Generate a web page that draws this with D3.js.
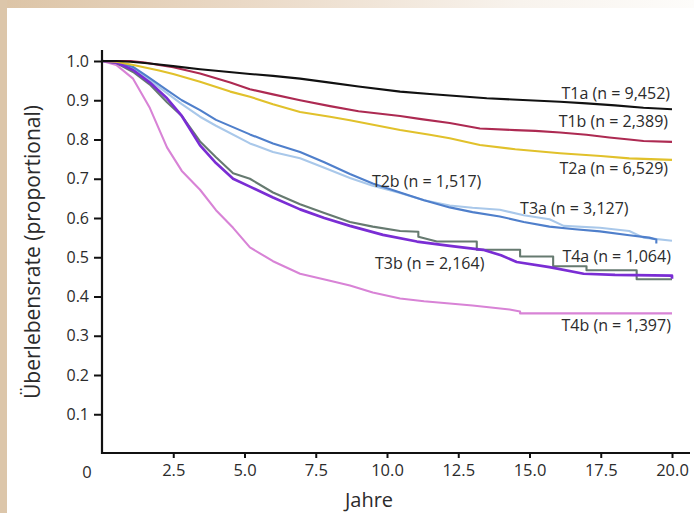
<!DOCTYPE html>
<html>
<head>
<meta charset="utf-8">
<script src="https://cdn.jsdelivr.net/npm/d3@7"></script>
<style>
  html, body { margin: 0; padding: 0; background: #fff; }
  svg { display: block; }
</style>
</head>
<body>
<svg id="chart" width="694" height="513"></svg>
<script>
// Kaplan-Meier survival by T category, values as [years, proportion surviving]
const xTicks = [2.5, 5.0, 7.5, 10.0, 12.5, 15.0, 17.5, 20.0];
const yTicks = [0.1, 0.2, 0.3, 0.4, 0.5, 0.6, 0.7, 0.8, 0.9, 1.0];

const seriesNames  = ["T1a", "T1b", "T2a", "T2b", "T3a", "T3b", "T4a", "T4b"];
const seriesCounts = ["9,452", "2,389", "6,529", "1,517", "3,127", "2,164", "1,064", "1,397"];

const t1a = [[0,1],[0.5,1],[1,0.998],[1.5,0.995],[2,0.991],[2.5,0.987],[3.44,0.979],[4,0.975],[5.19,0.967],[6,0.962],[6.95,0.955],[8,0.945],[9,0.935],[10.46,0.922],[11.5,0.916],[12.2,0.912],[13.5,0.905],[14.4,0.902],[16.07,0.896],[17,0.892],[18,0.887],[19,0.881],[20,0.877]];
const t1b = [[0,1],[1,1],[1.5,0.996],[2,0.99],[2.5,0.984],[3.44,0.968],[4.5,0.945],[5.19,0.928],[6,0.915],[6.95,0.9],[8,0.885],[9,0.872],[10.46,0.86],[11.2,0.852],[12.2,0.842],[13.26,0.828],[14.5,0.824],[15.2,0.822],[16.07,0.818],[17,0.812],[17.8,0.805],[18.5,0.8],[19,0.796],[20,0.794]];
const t2a = [[0,1],[0.5,0.998],[1.1,0.99],[2,0.976],[2.5,0.967],[3.44,0.947],[4.5,0.922],[5.19,0.909],[6,0.89],[6.95,0.87],[8,0.858],[8.7,0.849],[10.46,0.824],[11.5,0.812],[12.2,0.803],[13.26,0.786],[14.5,0.775],[16.07,0.765],[17.5,0.758],[18.5,0.752],[20,0.748]];
const t2b = [[0,1],[0.5,0.998],[1.09,0.985],[1.6,0.96],[2.28,0.926],[2.8,0.9],[3.44,0.875],[4,0.85],[5.19,0.813],[6,0.79],[6.95,0.768],[7.8,0.742],[8.7,0.712],[9.5,0.688],[10.46,0.665],[11.3,0.645],[12.2,0.627],[13,0.615],[13.96,0.604],[14.8,0.59],[15.7,0.578],[16.5,0.572],[17.47,0.566],[18.5,0.556],[19.2,0.55],[19.45,0.545],[19.45,0.535]];
const t3a = [[0,1],[0.5,0.997],[1.09,0.982],[1.6,0.955],[2.28,0.918],[2.8,0.89],[3.44,0.858],[4,0.835],[5.19,0.79],[6,0.768],[6.95,0.752],[7.8,0.728],[8.7,0.702],[9.5,0.682],[10.46,0.664],[11.3,0.645],[12.2,0.632],[13,0.626],[13.96,0.621],[14.8,0.607],[15.7,0.597],[16.2,0.58],[17.47,0.575],[18.5,0.567],[19,0.55],[20,0.542]];
const t3b = [[0,1],[0.5,0.996],[1.09,0.977],[1.68,0.945],[2.28,0.905],[2.8,0.86],[3.44,0.785],[4,0.74],[4.6,0.7],[5.19,0.68],[6,0.652],[6.95,0.622],[7.8,0.6],[8.7,0.58],[9.86,0.557],[11.05,0.54],[12.2,0.529],[13.37,0.519],[14,0.505],[14.55,0.488],[15.7,0.475],[16.9,0.458],[18,0.455],[20,0.453],[20,0.445]];
const t4a = [[0,1],[0.5,0.995],[1.09,0.972],[1.68,0.94],[2.28,0.895],[2.8,0.86],[3.44,0.795],[4,0.755],[4.6,0.714],[5.19,0.7],[6,0.665],[6.95,0.635],[7.8,0.613],[8.7,0.59],[9.5,0.578],[10.46,0.567],[11.1,0.565],[11.1,0.552],[11.75,0.54],[13.15,0.54],[13.15,0.519],[14.67,0.519],[14.67,0.502],[15.83,0.502],[15.83,0.477],[17,0.477],[17,0.467],[18.76,0.467],[18.76,0.444],[20,0.444]];
const t4b = [[0,1],[0.5,0.99],[1.09,0.955],[1.68,0.88],[2.28,0.78],[2.8,0.72],[3.44,0.672],[4,0.62],[4.6,0.575],[5.19,0.525],[5.54,0.51],[6,0.49],[6.95,0.458],[8,0.44],[8.7,0.428],[9.5,0.41],[10.46,0.395],[11.3,0.388],[12.2,0.382],[13,0.377],[14.3,0.367],[14.67,0.362],[14.67,0.357],[20,0.357]];

const seriesValues = [t1a, t1b, t2a, t2b, t3a, t3b, t4a, t4b];

// styling and label placement
const colors = ["#111111", "#ad2a52", "#e1c12b", "#4f7fcb", "#a9c8ea", "#7a2dd4", "#667a70", "#d883d6"];
const widths = [2.1, 2.1, 2.1, 2.1, 2.1, 2.7, 2.1, 2.1];
const labelAt = [
  { t: 19.93, v: 0.903, anchor: "end" },
  { t: 19.86, v: 0.832, anchor: "end" },
  { t: 19.86, v: 0.712, anchor: "end" },
  { t: 9.47,  v: 0.679, anchor: "start" },
  { t: 14.67, v: 0.610, anchor: "start" },
  { t: 9.58,  v: 0.470, anchor: "start" },
  { t: 19.96, v: 0.488, anchor: "end" },
  { t: 19.96, v: 0.312, anchor: "end" }
];
const drawOrder = [4, 3, 7, 6, 5, 2, 1, 0];

const svg = d3.select("#chart");
const W = 694, H = 513;
const font = "'Open Sans', 'Noto Sans', sans-serif";
const ink = "#2b2b2b";

// page frame
const defs = svg.append("defs");
const topGrad = defs.append("linearGradient").attr("id", "topBand").attr("x1", "0").attr("x2", "1");
topGrad.append("stop").attr("offset", "0").attr("stop-color", "#dcc4a6");
topGrad.append("stop").attr("offset", "0.35").attr("stop-color", "#ead9c6");
topGrad.append("stop").attr("offset", "0.75").attr("stop-color", "#f8f3ed");
topGrad.append("stop").attr("offset", "1").attr("stop-color", "#fdfcfa");
svg.append("rect").attr("width", W).attr("height", H).attr("fill", "#fff");
svg.append("rect").attr("x", 0).attr("y", 0).attr("width", W).attr("height", 8).attr("fill", "url(#topBand)");
svg.append("rect").attr("x", 0).attr("y", 0).attr("width", 7).attr("height", H).attr("fill", "#dcc6aa");

const x = d3.scaleLinear().domain([0, 20]).range([102, 672]);
const y = d3.scaleLinear().domain([0, 1]).range([453.5, 61]);

// curves
const line = d3.line().x(d => x(d[0])).y(d => y(d[1])).curve(d3.curveLinear);
const gCurves = svg.append("g");
drawOrder.forEach(i => {
  gCurves.append("path")
    .datum(seriesValues[i])
    .attr("d", line)
    .attr("fill", "none")
    .attr("stroke", colors[i])
    .attr("stroke-width", widths[i])
    .attr("stroke-linejoin", "round");
});

// axes
const yAxis = d3.axisLeft(y).tickValues(yTicks).tickSize(8).tickPadding(5).tickFormat(d3.format(".1f"));
const gy = svg.append("g").attr("transform", "translate(102,0)").call(yAxis);
gy.select(".domain").remove();
gy.selectAll(".tick line").attr("stroke", "#111").attr("stroke-width", 2);
gy.selectAll(".tick text").attr("fill", ink).style("font-family", font).style("font-size", "16px");

const xAxis = d3.axisBottom(x).tickValues(xTicks).tickSize(5).tickPadding(6).tickFormat(d3.format(".1f"));
const gx = svg.append("g").attr("transform", "translate(0,453)").call(xAxis);
gx.select(".domain").remove();
gx.selectAll(".tick line").attr("stroke", "#111").attr("stroke-width", 2);
gx.selectAll(".tick text").attr("fill", ink).style("font-family", font).style("font-size", "16.5px");

svg.append("path")
  .attr("d", `M102,50V453H690`)
  .attr("fill", "none").attr("stroke", "#111").attr("stroke-width", 2.2);

// origin label
svg.append("text").attr("x", 87).attr("y", 478).attr("text-anchor", "middle")
  .attr("fill", ink).style("font-family", font).style("font-size", "16.5px").text("0");

// axis titles
svg.append("text").attr("x", 369).attr("y", 507).attr("text-anchor", "middle")
  .attr("fill", ink).style("font-family", font).style("font-size", "20px").text("Jahre");
svg.append("text").attr("transform", "translate(40,252) rotate(-90)").attr("text-anchor", "middle")
  .attr("fill", ink).style("font-family", font).style("font-size", "21px").text("Überlebensrate (proportional)");

// series labels
seriesNames.forEach((name, i) => {
  svg.append("text")
    .attr("x", x(labelAt[i].t)).attr("y", y(labelAt[i].v))
    .attr("text-anchor", labelAt[i].anchor)
    .attr("fill", ink).style("font-family", font).style("font-size", "16px")
    .text(`${name} (n = ${seriesCounts[i]})`);
});
</script>
</body>
</html>
